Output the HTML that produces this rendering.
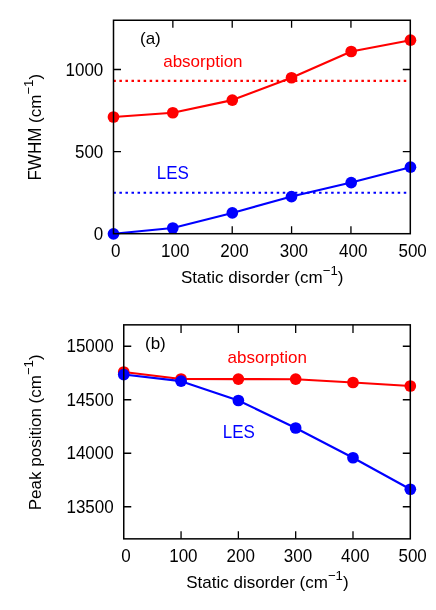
<!DOCTYPE html>
<html><head><meta charset="utf-8"><title>chart</title>
<style>
html,body{margin:0;padding:0;background:#fff;}
svg{display:block;will-change:transform;}
text{font-family:"Liberation Sans",sans-serif;font-size:17.0px;}
</style></head><body>
<svg width="436" height="610" viewBox="0 0 436 610">
<g>
<path d="M172.86 233.7v-7.5M172.86 20.25v7.5M232.22 233.7v-7.5M232.22 20.25v7.5M291.58 233.7v-7.5M291.58 20.25v7.5M350.94 233.7v-7.5M350.94 20.25v7.5M113.5 151.60h7.5M410.3 151.60h-7.5M113.5 69.51h7.5M410.3 69.51h-7.5" stroke="#000" stroke-width="1.3" fill="none"/>
<line x1="113.35" y1="80.9" x2="408.3" y2="80.9" stroke="#f00" stroke-width="2.1" stroke-dasharray="2.5 3.55"/>
<line x1="113.35" y1="192.7" x2="408.3" y2="192.7" stroke="#00f" stroke-width="2.1" stroke-dasharray="2.5 3.55"/>
<polyline fill="none" stroke="#f00" stroke-width="2.1" stroke-linejoin="round" points="113.50,117.00 172.80,112.75 232.30,100.10 291.50,77.75 351.20,51.50 410.45,40.20"/>
<circle cx="113.50" cy="117.00" r="5.85" fill="#f00"/>
<circle cx="172.80" cy="112.75" r="5.85" fill="#f00"/>
<circle cx="232.30" cy="100.10" r="5.85" fill="#f00"/>
<circle cx="291.50" cy="77.75" r="5.85" fill="#f00"/>
<circle cx="351.20" cy="51.50" r="5.85" fill="#f00"/>
<circle cx="410.45" cy="40.20" r="5.85" fill="#f00"/>
<polyline fill="none" stroke="#00f" stroke-width="2.1" stroke-linejoin="round" points="113.50,233.80 172.80,228.00 232.30,212.90 291.50,196.60 351.20,182.60 410.45,167.20"/>
<circle cx="113.50" cy="233.80" r="5.85" fill="#00f"/>
<circle cx="172.80" cy="228.00" r="5.85" fill="#00f"/>
<circle cx="232.30" cy="212.90" r="5.85" fill="#00f"/>
<circle cx="291.50" cy="196.60" r="5.85" fill="#00f"/>
<circle cx="351.20" cy="182.60" r="5.85" fill="#00f"/>
<circle cx="410.45" cy="167.20" r="5.85" fill="#00f"/>
<rect x="113.5" y="20.25" width="296.8" height="213.45" fill="none" stroke="#000" stroke-width="1.5"/>
<text transform="translate(115.80,257.0) scale(1,1.025)" text-anchor="middle">0</text>
<text transform="translate(175.16,257.0) scale(1,1.025)" text-anchor="middle">100</text>
<text transform="translate(234.52,257.0) scale(1,1.025)" text-anchor="middle">200</text>
<text transform="translate(293.88,257.0) scale(1,1.025)" text-anchor="middle">300</text>
<text transform="translate(353.24,257.0) scale(1,1.025)" text-anchor="middle">400</text>
<text transform="translate(412.60,257.0) scale(1,1.025)" text-anchor="middle">500</text>
<text transform="translate(103.3,239.80) scale(1,1.025)" text-anchor="end">0</text>
<text transform="translate(103.3,157.70) scale(1,1.025)" text-anchor="end">500</text>
<text transform="translate(103.3,75.61) scale(1,1.025)" text-anchor="end">1000</text>
<text x="140" y="43.6">(a)</text>
<text x="163.2" y="67" fill="#f00">absorption</text>
<text transform="translate(156.8,178.9) scale(1,1.06)" fill="#00f">LES</text>
<text x="262.2" y="283.4" text-anchor="middle">Static disorder (cm<tspan font-size="13.2" dy="-8.4">−1</tspan><tspan dy="8.4">)</tspan></text>
<g transform="translate(41.1,127.2) rotate(-90)"><text transform="translate(-53.3,0) scale(1,1.06)">FWHM</text><text x="4.29" y="0">(cm<tspan font-size="13.2" dy="-8.4">−1</tspan><tspan dy="8.4">)</tspan></text></g>
</g>
<g>
<path d="M181.06 538.85v-7.5M181.06 324.85v8.2M238.37 538.85v-7.5M238.37 324.85v8.2M295.68 538.85v-7.5M295.68 324.85v8.2M352.99 538.85v-7.5M352.99 324.85v8.2M123.75 506.75h7.5M410.3 506.75h-7.5M123.75 453.25h7.5M410.3 453.25h-7.5M123.75 399.75h7.5M410.3 399.75h-7.5M123.75 346.25h7.5M410.3 346.25h-7.5" stroke="#000" stroke-width="1.3" fill="none"/>
<polyline fill="none" stroke="#f00" stroke-width="2.1" stroke-linejoin="round" points="123.75,372.00 181.06,379.00 238.37,379.10 295.68,379.20 352.99,382.50 410.30,386.00"/>
<circle cx="123.75" cy="372.00" r="5.85" fill="#f00"/>
<circle cx="181.06" cy="379.00" r="5.85" fill="#f00"/>
<circle cx="238.37" cy="379.10" r="5.85" fill="#f00"/>
<circle cx="295.68" cy="379.20" r="5.85" fill="#f00"/>
<circle cx="352.99" cy="382.50" r="5.85" fill="#f00"/>
<circle cx="410.30" cy="386.00" r="5.85" fill="#f00"/>
<polyline fill="none" stroke="#00f" stroke-width="2.1" stroke-linejoin="round" points="123.75,374.55 181.06,381.15 238.37,400.50 295.68,428.00 352.99,457.75 410.30,489.25"/>
<circle cx="123.75" cy="374.55" r="5.85" fill="#00f"/>
<circle cx="181.06" cy="381.15" r="5.85" fill="#00f"/>
<circle cx="238.37" cy="400.50" r="5.85" fill="#00f"/>
<circle cx="295.68" cy="428.00" r="5.85" fill="#00f"/>
<circle cx="352.99" cy="457.75" r="5.85" fill="#00f"/>
<circle cx="410.30" cy="489.25" r="5.85" fill="#00f"/>
<rect x="123.75" y="324.85" width="286.55" height="214.0" fill="none" stroke="#000" stroke-width="1.5"/>
<text transform="translate(126.05,562.0) scale(1,1.025)" text-anchor="middle">0</text>
<text transform="translate(183.36,562.0) scale(1,1.025)" text-anchor="middle">100</text>
<text transform="translate(240.67,562.0) scale(1,1.025)" text-anchor="middle">200</text>
<text transform="translate(297.98,562.0) scale(1,1.025)" text-anchor="middle">300</text>
<text transform="translate(355.29,562.0) scale(1,1.025)" text-anchor="middle">400</text>
<text transform="translate(412.60,562.0) scale(1,1.025)" text-anchor="middle">500</text>
<text transform="translate(113.7,512.85) scale(1,1.025)" text-anchor="end">13500</text>
<text transform="translate(113.7,459.35) scale(1,1.025)" text-anchor="end">14000</text>
<text transform="translate(113.7,405.85) scale(1,1.025)" text-anchor="end">14500</text>
<text transform="translate(113.7,352.35) scale(1,1.025)" text-anchor="end">15000</text>
<text x="145" y="348.6">(b)</text>
<text x="227.6" y="363" fill="#f00">absorption</text>
<text transform="translate(222.8,438.1) scale(1,1.06)" fill="#00f">LES</text>
<text x="267.4" y="588.4" text-anchor="middle">Static disorder (cm<tspan font-size="13.2" dy="-8.4">−1</tspan><tspan dy="8.4">)</tspan></text>
<text transform="translate(41.2,432.3) rotate(-90)" text-anchor="middle">Peak position (cm<tspan font-size="13.2" dy="-8.4">−1</tspan><tspan dy="8.4">)</tspan></text>
</g>
</svg>
</body></html>
